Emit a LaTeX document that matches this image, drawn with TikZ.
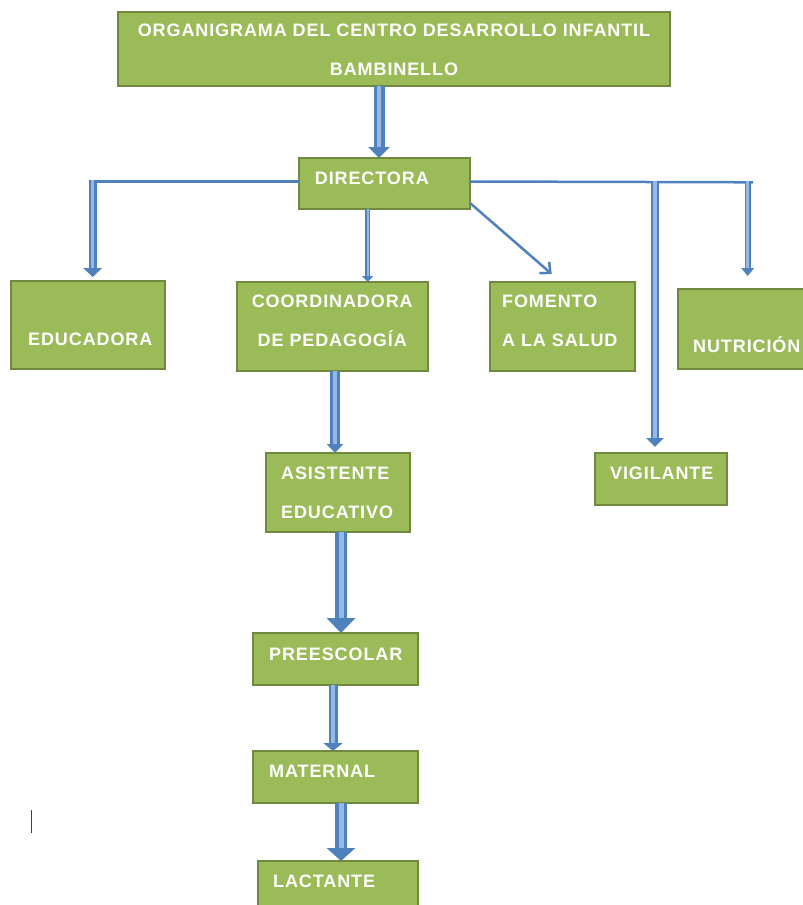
\documentclass[tikz,border=0pt]{standalone}
\usepackage{fontspec}
\newfontfamily\boxfont{Liberation Sans}[LetterSpace=5]
\usetikzlibrary{arrows.meta,calc}
\definecolor{boxgreen}{HTML}{9BBB59}
\definecolor{boxedge}{HTML}{71893F}
\definecolor{arrowblue}{HTML}{4F81BD}
\definecolor{arrowlight}{HTML}{95B8E6}
\tikzset{
  box/.style={draw=boxedge, fill=boxgreen, line width=2pt, rectangle, inner sep=0pt, outer sep=0pt, anchor=north west},
  txt/.style={text=white, font={\boxfont\bfseries\fontsize{18}{39}\selectfont}, inner sep=0pt},
  blockarrow/.style n args={4}{draw=arrowblue, line width=#1, -{Triangle[width=#2,length=#3]},
     postaction={draw=arrowlight, line width=#4, -, shorten >=#3}},
  thinline/.style={draw=arrowblue, line width=2.5pt},
  openarrow/.style={draw=arrowblue, line width=2.5pt, -{Straight Barb[width=15pt,length=8pt,line width=2.5pt]}},
}
\begin{document}
\begin{tikzpicture}[x=1pt,y=-1pt]
\useasboundingbox (0,0) rectangle (803,905);

% boxes
\node[box, minimum width=552pt, minimum height=74pt,
  label={[txt, align=center, anchor=north, yshift=-11.3pt]north:{ORGANIGRAMA DEL CENTRO DESARROLLO INFANTIL\\BAMBINELLO}}] (title) at (118,12) {};
\node[box, minimum width=171pt, minimum height=51pt,
  label={[txt, anchor=base west, xshift=15.7pt, yshift=-26.3pt]north west:DIRECTORA}] (dir) at (299,158) {};
\node[box, minimum width=154pt, minimum height=88pt,
  label={[txt, anchor=base west, xshift=17pt, yshift=-64pt]north west:EDUCADORA}] (edu) at (11,281) {};
\node[box, minimum width=191.5pt, minimum height=89pt,
  label={[txt, align=center, anchor=north, yshift=-13pt]north:{COORDINADORA\\DE PEDAGOGÍA}}] (coord) at (236.5,282) {};
\node[box, minimum width=145pt, minimum height=89pt,
  label={[txt, align=left, anchor=north west, xshift=12pt, yshift=-13pt]north west:{FOMENTO\\A LA SALUD}}] (fom) at (490,282) {};
\node[box, minimum width=140pt, minimum height=80pt,
  label={[txt, anchor=base west, xshift=15.5pt, yshift=-63.7pt]north west:NUTRICIÓN}] (nut) at (677.5,289) {};
\node[box, minimum width=132pt, minimum height=52pt,
  label={[txt, anchor=base west, xshift=15pt, yshift=-26.3pt]north west:VIGILANTE}] (vig) at (595,453) {};
\node[box, minimum width=144pt, minimum height=79pt,
  label={[txt, align=left, anchor=north west, xshift=15pt, yshift=-13.7pt]north west:{ASISTENTE\\EDUCATIVO}}] (asis) at (266,453) {};
\node[box, minimum width=165pt, minimum height=52pt,
  label={[txt, anchor=base west, xshift=16pt, yshift=-27pt]north west:PREESCOLAR}] (pre) at (253,633) {};
\node[box, minimum width=165pt, minimum height=52pt,
  label={[txt, anchor=base west, xshift=16pt, yshift=-26pt]north west:MATERNAL}] (mat) at (253,751) {};
\node[box, minimum width=160pt, minimum height=60pt,
  label={[txt, anchor=base west, xshift=15pt, yshift=-26pt]north west:LACTANTE}] (lac) at (258,861) {};

% junction points on the horizontal lines
\coordinate (jl) at (92.7,181.5);
\coordinate (jv) at (655,182);
\coordinate (jn) at (747.7,182.3);
\coordinate (jr) at (753,182.3);

% title -> directora
\draw[blockarrow={11pt}{21pt}{11pt}{4.5pt}] ([xshift=-15pt]title.south) -- ([xshift=-15pt]title.south |- dir.north);

% directora -> left (educadora)
\draw[thinline] ([yshift=2pt]dir.west) -- (jl);
\draw[blockarrow={8pt}{18.5pt}{9pt}{3.5pt}] ($(jl)+(0,-1.5)$) -- ($(jl |- edu.north)+(0,-4)$);

% directora -> coordinadora
\draw[blockarrow={5.5pt}{11pt}{6pt}{2pt}] ([xshift=-16.8pt]dir.south) -- ([xshift=-16.8pt]dir.south |- coord.north);

% directora -> fomento (diagonal)
\draw[openarrow] ([yshift=6pt]dir.south east) -- ($(fom.north)+(-10.8,-8)$);

% directora -> right line
\draw[thinline] ([yshift=2pt]dir.east) -- (jr);
\draw[blockarrow={8pt}{17pt}{9pt}{3.5pt}] ($(jv)+(0,-1)$) -- ($(jv |- vig.north)+(0,-6)$);
\draw[blockarrow={6pt}{12.5pt}{8pt}{2.5pt}] ($(jn)+(0,-1)$) -- ($(jn |- nut.north)+(0,-13)$);

% vertical chain
\draw[blockarrow={10pt}{16pt}{9pt}{4pt}] ([xshift=2.75pt]coord.south) -- ([xshift=2.75pt]coord.south |- asis.north);
\draw[blockarrow={12pt}{28pt}{15pt}{5pt}] ([xshift=3pt]asis.south) -- ([xshift=3pt]asis.south |- pre.north);
\draw[blockarrow={9pt}{19pt}{8pt}{3.5pt}] ([xshift=-2.5pt]pre.south) -- ([xshift=-2.5pt]pre.south |- mat.north);
\draw[blockarrow={12pt}{28pt}{13pt}{5pt}] ([xshift=5.5pt]mat.south) -- ([xshift=5.5pt]mat.south |- lac.north);

% text cursor mark
\draw[line width=1.5pt, draw=black!75] (31.7,810) -- (31.7,833);
\end{tikzpicture}
\end{document}
